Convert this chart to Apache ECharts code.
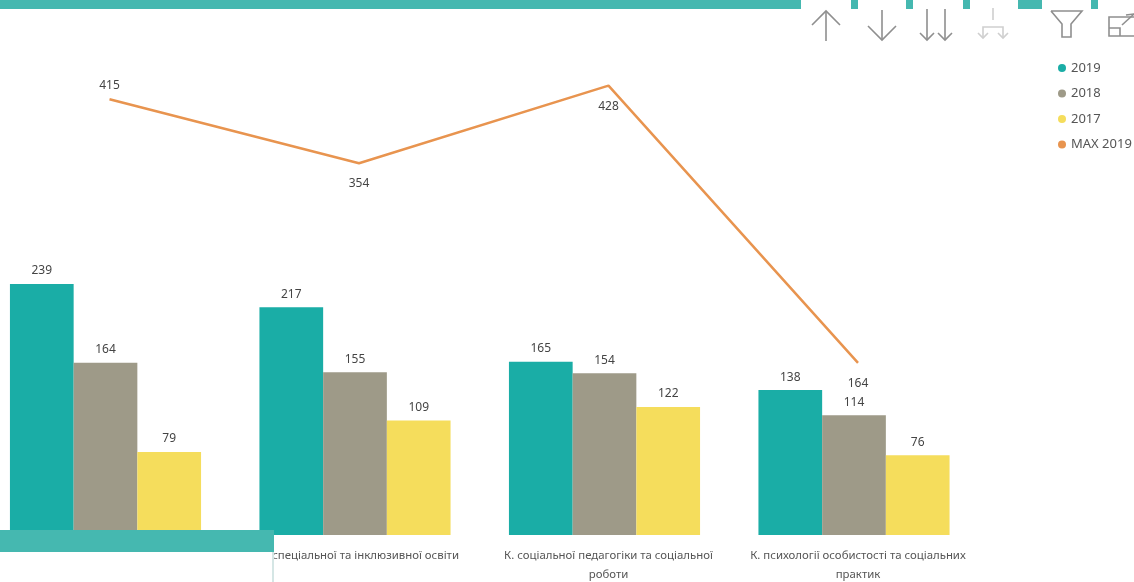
<!DOCTYPE html>
<html><head><meta charset="utf-8">
<style>html,body{margin:0;padding:0;background:#fff;overflow:hidden}#c{width:1134px;height:582px}</style>
<script src="https://cdn.jsdelivr.net/npm/echarts@6/dist/echarts.min.js"></script>
</head><body><div id="c"></div>
<script>
const categories = ["", "К. спеціальної та інклюзивної освіти", "К. соціальної педагогіки та соціальної\nроботи", "К. психології особистості та соціальних\nпрактик"];
const v2019 = [239, 217, 165, 138];
const v2018 = [164, 155, 154, 114];
const v2017 = [79, 109, 122, 76];
const maxLine = [415, 354, 428, 164];
const maxLabelPos = ["top", "bottom", "bottom", "bottom"];
const maxLabelDist = [8, 14, 15, 15];

const FONT = "'Noto Sans'";
const teal = "#1AADA6", gray = "#9E9A88", yellow = "#F5DD5C", orange = "#E8944F";
const ICON = "#8f8f8f";
const line = (pts, color, w) => ({type:"polyline", z:50, shape:{points:pts}, style:{fill:"none", stroke:color||ICON, lineWidth:w||1.6}});
const rect = (x,y,w,h,fill) => ({type:"rect", z:40, shape:{x,y,width:w,height:h}, style:{fill}});
const bar = (name,data,color) => ({name,type:"bar",data,xAxisIndex:0,yAxisIndex:0,barGap:0,barCategoryGap:"23.4%",
  itemStyle:{color},label:{show:true,position:"top",distance:7,fontFamily:FONT,fontSize:12,color:"#444"}});

const chart = echarts.init(document.getElementById("c"), null, {renderer:"canvas"});
chart.setOption({
  animation:false,
  backgroundColor:"#fff",
  textStyle:{fontFamily:FONT},
  legend:{orient:"vertical",left:1058,top:59,itemGap:7.5,itemWidth:10,itemHeight:8,icon:"circle",padding:0,
    textStyle:{fontFamily:FONT,fontSize:13,color:"#555",padding:[0,0,0,-1],lineHeight:18},
    data:["2019","2018","2017","MAX 2019"]},
  grid:[{left:-19.25,right:155.25,top:10,bottom:47,outerBoundsMode:"none"},{left:-15.25,right:151.25,top:10,bottom:47,outerBoundsMode:"none"}],
  xAxis:[
    {type:"category",gridIndex:0,data:categories,show:false},
    {type:"category",gridIndex:1,data:categories,axisLine:{show:false},axisTick:{show:false},
     axisLabel:{interval:0,fontFamily:FONT,fontSize:11.4,color:"#555",lineHeight:19,margin:11}}
  ],
  yAxis:[
    {type:"value",gridIndex:0,min:0,max:500,show:false},
    {type:"value",gridIndex:1,min:0,max:500,show:false}
  ],
  series:[
    bar("2019",v2019,teal),bar("2018",v2018,gray),bar("2017",v2017,yellow),
    {name:"MAX 2019",type:"line",xAxisIndex:1,yAxisIndex:1,showSymbol:true,symbol:"circle",symbolSize:0.1,
     lineStyle:{color:orange,width:2.5},itemStyle:{color:orange},
     data:maxLine.map((value,i)=>({value,label:{show:true,position:maxLabelPos[i],distance:maxLabelDist[i],
       fontFamily:FONT,fontSize:12,color:"#444"}}))}
  ],
  graphic:[
    rect(0,0,801,9,"#45B8B0"),
    rect(851,0,7,9,"#45B8B0"),rect(906,0,7,9,"#45B8B0"),rect(963,0,7,9,"#45B8B0"),
    rect(1018,0,24,9,"#45B8B0"),rect(1091,0,7,9,"#45B8B0"),
    rect(0,552,272,30,"#fff"),
    rect(0,530,274,22,"#45B8B0"),
    rect(272,552,2,30,"#D5E6E5"),
    line([[826,41],[826,11]]),line([[812,25],[826,11],[840,25]]),
    line([[882,10],[882,40]]),line([[868,26],[882,40],[896,26]]),
    line([[927,9],[927,40]]),line([[920,33],[927,40],[934,33]]),
    line([[945,9],[945,40]]),line([[938,33],[945,40],[952,33]]),
    line([[993,8],[993,20]],"#cfcfcf"),line([[983,38],[983,27],[1003,27],[1003,38]],"#cfcfcf"),
    line([[978,33],[983,38],[988,33]],"#cfcfcf"),line([[998,33],[1003,38],[1008,33]],"#cfcfcf"),
    line([[1051,11],[1082,11],[1071,24],[1071,37],[1062,37],[1062,24],[1051,11]]),
    line([[1134,17],[1109,17],[1109,36],[1134,36]]),line([[1109,28],[1120,28],[1120,36]]),
    line([[1122,25],[1134,14]]),line([[1126,15],[1134,14]])
  ]
});
</script></body></html>
